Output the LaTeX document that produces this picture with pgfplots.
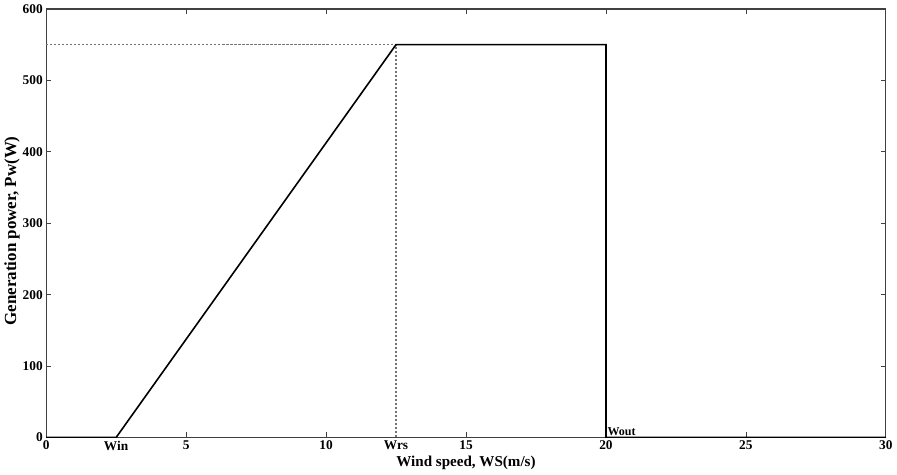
\documentclass[border=0pt]{standalone}
\usepackage{fontspec}
\setmainfont{Liberation Serif}
\usepackage{pgfplots}
\pgfplotsset{compat=1.18}
\begin{document}
\begin{tikzpicture}
\begin{axis}[
  scale only axis,
  width=629pt, height=321pt,
  xmin=0, xmax=30, ymin=0, ymax=600,
  xtick={0,5,10,15,20,25,30},
  ytick={0,100,200,300,400,500,600},
  extra x ticks={2.5,12.5},
  extra x tick labels={Win,Wrs},
  extra x tick style={major tick length=0pt, grid=none},
  tick align=inside,
  major tick length=4pt,
  axis line style={draw=black!75, line width=0.9pt},
  tick style={draw=black!75, line width=0.6pt},
  /pgf/number format/assume math mode=true,
  ticklabel style={font=\fontsize{10}{12}\selectfont\bfseries},
  xticklabel style={yshift=1pt},
  yticklabel style={xshift=1pt},
  xlabel={Wind speed, WS(m/s)},
  ylabel={Generation power, Pw(W)},
  xlabel style={font=\fontsize{11.3}{13}\selectfont\bfseries, at={(axis description cs:0.5,-0.06)}, anchor=center},
  ylabel style={font=\fontsize{12.7}{14}\selectfont\bfseries, at={(axis description cs:-0.0405,0.482)}, anchor=center},
]
\addplot[black!55, dash pattern=on 1.6pt off 1.4pt, line width=0.8pt] coordinates {(0,550) (12.5,550)};
\addplot[black!55, dash pattern=on 1.6pt off 1.4pt, line width=0.8pt] coordinates {(12.5,0) (12.5,550)};
\addplot[black, line width=1.2pt] coordinates {
  (0,0) (2.5,0) (12.5,550) (20,550) (20,0) (30,0)
};
\node[anchor=south west, inner sep=1pt, font=\fontsize{9}{10}\selectfont\bfseries] at (axis cs:20,0) {Wout};
\end{axis}
\end{tikzpicture}
\end{document}
